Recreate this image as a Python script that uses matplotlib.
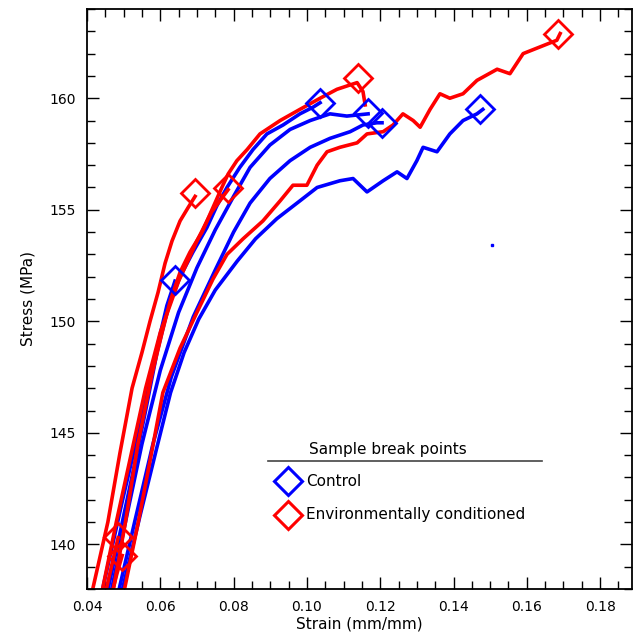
import matplotlib
matplotlib.use("Agg")
import matplotlib.pyplot as plt

# control samples (blue)
blue_a_x = [0.0440, 0.0470, 0.0500, 0.0540, 0.0570, 0.0591, 0.0618, 0.0640]
blue_a_y = [137.8, 140.0, 142.2, 145.0, 147.2, 148.8, 150.7, 151.8]

blue_b_x = [0.0455, 0.0490, 0.0525, 0.0560, 0.0591, 0.0621, 0.0654, 0.0689, 0.0727, 0.0755,
            0.0782, 0.0817, 0.0853, 0.0891, 0.0935, 0.0981, 0.1017, 0.1036]
blue_b_y = [137.8, 140.5, 143.2, 146.0, 148.6, 150.6, 152.0, 153.1, 154.2, 155.2,
            156.0, 156.9, 157.7, 158.4, 158.8, 159.3, 159.6, 159.8]

blue_c_x = [0.0465, 0.0505, 0.0550, 0.0600, 0.0650, 0.0700, 0.0750, 0.0800, 0.0845, 0.0899,
            0.0954, 0.1009, 0.1063, 0.1109, 0.1167]
blue_c_y = [137.8, 141.0, 144.5, 147.8, 150.4, 152.4, 154.1, 155.6, 156.9, 157.9,
            158.6, 159.0, 159.3, 159.2, 159.3]

blue_d_x = [0.0485, 0.0530, 0.0580, 0.0630, 0.0690, 0.0750, 0.0800, 0.0845, 0.0899, 0.0954,
            0.1009, 0.1063, 0.1118, 0.1153, 0.1191, 0.1205]
blue_d_y = [137.8, 141.0, 144.5, 147.5, 150.2, 152.3, 154.0, 155.3, 156.4, 157.2,
            157.8, 158.2, 158.5, 158.8, 158.9, 158.9]

blue_e_x = [0.0494, 0.0545, 0.0590, 0.0628, 0.0665, 0.0705, 0.0750, 0.0810, 0.0860, 0.0918,
            0.0981, 0.1028, 0.1090, 0.1126, 0.1164, 0.1208, 0.1246, 0.1273, 0.1300, 0.1317,
            0.1355, 0.1390, 0.1426, 0.1464, 0.1480]
blue_e_y = [137.8, 141.3, 144.3, 146.8, 148.6, 150.1, 151.4, 152.7, 153.7, 154.6,
            155.4, 156.0, 156.3, 156.4, 155.8, 156.3, 156.7, 156.4, 157.2, 157.8,
            157.6, 158.4, 159.0, 159.3, 159.5]

# environmentally conditioned samples (red)
red_a_x = [0.0413, 0.0457, 0.0490, 0.0523, 0.0550, 0.0572, 0.0594, 0.0613, 0.0632, 0.0654,
           0.0676, 0.0695]
red_a_y = [137.8, 141.0, 144.1, 147.0, 148.6, 150.0, 151.3, 152.6, 153.6, 154.5,
           155.1, 155.6]

red_b_x = [0.0440, 0.0480, 0.0520, 0.0560, 0.0600, 0.0650, 0.0700, 0.0740, 0.0785]
red_b_y = [137.8, 141.0, 144.0, 147.0, 149.5, 151.8, 153.6, 154.9, 155.9]

red_c_x = [0.0470, 0.0505, 0.0539, 0.0577, 0.0605, 0.0627, 0.0654, 0.0681, 0.0714, 0.0741,
           0.0768, 0.0785, 0.0809, 0.0837, 0.0872, 0.0927, 0.0981, 0.1036, 0.1082, 0.1137,
           0.1153, 0.1159]
red_c_y = [137.8, 141.0, 144.5, 147.6, 149.5, 150.9, 152.2, 153.1, 154.0, 155.0,
           156.0, 156.6, 157.2, 157.7, 158.4, 159.0, 159.5, 160.0, 160.4, 160.7,
           160.3, 159.7]

red_d_x = [0.0500, 0.0540, 0.0575, 0.0607, 0.0654, 0.0700, 0.0744, 0.0782, 0.0826, 0.0880,
           0.0927, 0.0962, 0.1000, 0.1028, 0.1055, 0.1090, 0.1137, 0.1164, 0.1208, 0.1235,
           0.1262, 0.1290, 0.1309, 0.1336, 0.1363, 0.1390, 0.1426, 0.1464, 0.1519, 0.1554,
           0.1590, 0.1636, 0.1682, 0.1691]
red_d_y = [137.8, 141.0, 144.0, 146.8, 148.8, 150.4, 151.9, 153.0, 153.7, 154.5,
           155.4, 156.1, 156.1, 157.0, 157.6, 157.8, 158.0, 158.4, 158.5, 158.8,
           159.3, 159.0, 158.7, 159.5, 160.2, 160.0, 160.2, 160.8, 161.3, 161.1,
           162.0, 162.3, 162.6, 162.9]

red_e_x = [0.0450, 0.0468, 0.0485]
red_e_y = [137.8, 139.1, 140.3]

red_f_x = [0.0468, 0.0482, 0.0496]
red_f_y = [137.8, 138.7, 139.5]

# break points
blue_break_x = [0.0640, 0.1036, 0.1167, 0.1205, 0.1472]
blue_break_y = [151.87, 159.78, 159.33, 158.88, 159.5]
red_break_x = [0.0695, 0.0785, 0.1139, 0.1685, 0.0485, 0.0496]
red_break_y = [155.73, 155.96, 160.9, 162.88, 140.31, 139.5]

stray_x = [0.1505]
stray_y = [153.44]

blue_curves = [(blue_a_x, blue_a_y), (blue_b_x, blue_b_y), (blue_c_x, blue_c_y),
               (blue_d_x, blue_d_y), (blue_e_x, blue_e_y)]
red_curves = [(red_a_x, red_a_y), (red_b_x, red_b_y), (red_c_x, red_c_y),
              (red_d_x, red_d_y), (red_e_x, red_e_y), (red_f_x, red_f_y)]

BLUE = '#0000ff'
RED = '#ff0000'

fig = plt.figure(figsize=(6.4, 6.34), dpi=100)
ax = fig.add_axes([0.1359, 0.0710, 0.8516, 0.9148])

for x, y in blue_curves:
    ax.plot(x, y, color=BLUE, lw=2.6, solid_joinstyle='round')
for x, y in red_curves:
    ax.plot(x, y, color=RED, lw=2.6, solid_joinstyle='round')
ax.plot(stray_x, stray_y, 's', color=BLUE, ms=1.5)

ax.plot(blue_break_x, blue_break_y, 'D', ms=14, mfc='none', mec=BLUE, mew=2)
ax.plot(red_break_x, red_break_y, 'D', ms=14, mfc='none', mec=RED, mew=2)

ax.set_xlim(0.04, 0.1887)
ax.set_ylim(138, 164)
ax.set_xticks([0.04, 0.06, 0.08, 0.10, 0.12, 0.14, 0.16, 0.18])
ax.set_xticklabels(['%.2f' % v for v in ax.get_xticks()])
ax.set_xticks([v / 1000 for v in range(40, 190, 5)], minor=True)
ax.set_yticks([140, 145, 150, 155, 160])
ax.set_yticks(range(138, 165), minor=True)
ax.tick_params(which='both', direction='in', top=True, right=True, labelsize=10, width=1)
ax.tick_params(which='major', length=8.5, pad=8)
ax.tick_params(which='minor', length=5.5)
for s in ax.spines.values():
    s.set_linewidth(1.3)

ax.set_xlabel('Strain (mm/mm)', fontsize=11, labelpad=2)
ax.set_ylabel('Stress (MPa)', fontsize=11, labelpad=10)

# hand-made legend
ax.text(0.552, 0.241, 'Sample break points', transform=ax.transAxes, fontsize=11,
        ha='center', va='center')
ax.plot([0.332, 0.835], [0.2207, 0.2207], transform=ax.transAxes, color='#444444', lw=1.2)
ax.plot([0.369], [0.186], 'D', transform=ax.transAxes, ms=14, mfc='none', mec=BLUE, mew=2.2)
ax.plot([0.369], [0.1276], 'D', transform=ax.transAxes, ms=14, mfc='none', mec=RED, mew=2.2)
ax.text(0.402, 0.186, 'Control', transform=ax.transAxes, fontsize=11, va='center')
ax.text(0.402, 0.1276, 'Environmentally conditioned', transform=ax.transAxes, fontsize=11,
        va='center')

fig.savefig('out.png', dpi=100)
